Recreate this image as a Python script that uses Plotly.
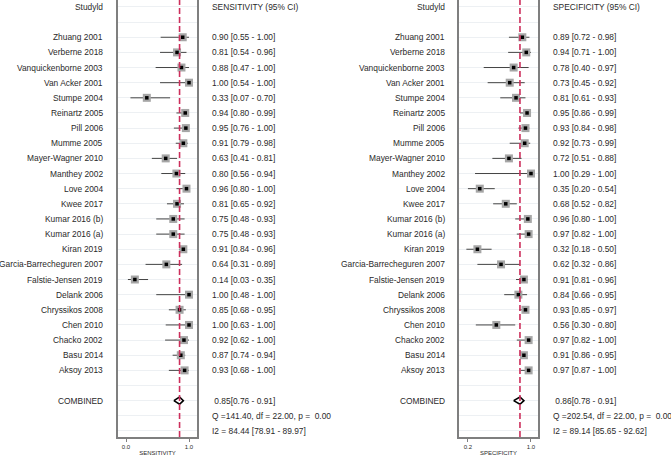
import plotly.graph_objects as go

# study rows, top to bottom
studies = [
    "Zhuang 2001", "Verberne 2018", "Vanquickenborne 2003", "Van Acker 2001",
    "Stumpe 2004", "Reinartz 2005", "Pill 2006", "Mumme 2005",
    "Mayer-Wagner 2010", "Manthey 2002", "Love 2004", "Kwee 2017",
    "Kumar 2016 (b)", "Kumar 2016 (a)", "Kiran 2019", "Garcia-Barrecheguren 2007",
    "Falstie-Jensen 2019", "Delank 2006", "Chryssikos 2008", "Chen 2010",
    "Chacko 2002", "Basu 2014", "Aksoy 2013",
]

sens = [0.90, 0.81, 0.88, 1.00, 0.33, 0.94, 0.95, 0.91, 0.63, 0.80, 0.96, 0.81,
        0.75, 0.75, 0.91, 0.64, 0.14, 1.00, 0.85, 1.00, 0.92, 0.87, 0.93]
sens_lo = [0.55, 0.54, 0.47, 0.54, 0.07, 0.80, 0.76, 0.79, 0.41, 0.56, 0.80, 0.65,
           0.48, 0.48, 0.84, 0.31, 0.03, 0.48, 0.68, 0.63, 0.62, 0.74, 0.68]
sens_hi = [1.00, 0.96, 1.00, 1.00, 0.70, 0.99, 1.00, 0.98, 0.81, 0.94, 1.00, 0.92,
           0.93, 0.93, 0.96, 0.89, 0.35, 1.00, 0.95, 1.00, 1.00, 0.94, 1.00]

spec = [0.89, 0.94, 0.78, 0.73, 0.81, 0.95, 0.93, 0.92, 0.72, 1.00, 0.35, 0.68,
        0.96, 0.97, 0.32, 0.62, 0.91, 0.84, 0.93, 0.56, 0.97, 0.91, 0.97]
spec_lo = [0.72, 0.71, 0.40, 0.45, 0.61, 0.86, 0.84, 0.73, 0.51, 0.29, 0.20, 0.52,
           0.80, 0.82, 0.18, 0.32, 0.81, 0.66, 0.85, 0.30, 0.82, 0.86, 0.87]
spec_hi = [0.98, 1.00, 0.97, 0.92, 0.93, 0.99, 0.98, 0.99, 0.88, 1.00, 0.54, 0.82,
           1.00, 1.00, 0.50, 0.86, 0.96, 0.95, 0.97, 0.80, 1.00, 0.95, 1.00]

# pooled estimates [est, lo, hi]
sens_comb = [0.85, 0.76, 0.91]
spec_comb = [0.86, 0.78, 0.91]
NB = "\u00a0"
sens_het = ["Q =141.40, df = 22.00, p =" + NB + NB + "0.00", "I2 = 84.44 [78.91 - 89.97]"]
spec_het = ["Q =202.54, df = 22.00, p =" + NB + NB + "0.00", "I2 = 89.14 [85.65 - 92.62]"]

sens_ticks = [0.0, 1.0]
spec_ticks = [0.2, 1.0]

FONT = "Liberation Sans, Arial, sans-serif"
TXT = "#2a2a2a"
rows = list(range(2, 2 + len(studies)))
row_comb = rows[-1] + 2
row_q = row_comb + 1
row_i2 = row_comb + 2

fig = go.Figure()


def add_panel(est, lo, hi, comb, xa, ya):
    # CI lines
    xs, ys = [], []
    for l, h, r in zip(lo, hi, rows):
        xs += [l, h, None]
        ys += [r, r, None]
    fig.add_trace(go.Scatter(x=xs, y=ys, mode="lines", xaxis=xa, yaxis=ya,
                             line=dict(color="#444444", width=1),
                             hoverinfo="skip", showlegend=False))
    fig.add_trace(go.Scatter(x=est, y=rows, mode="markers", xaxis=xa, yaxis=ya,
                             marker=dict(symbol="square", size=8, color="#a6a6a6"),
                             showlegend=False))
    fig.add_trace(go.Scatter(x=est, y=rows, mode="markers", xaxis=xa, yaxis=ya,
                             marker=dict(symbol="square", size=3.5, color="#000000"),
                             showlegend=False))
    e, l, h = comb
    d = 0.24
    fig.add_trace(go.Scatter(x=[l, e, h, e, l], y=[row_comb, row_comb - d, row_comb, row_comb + d, row_comb],
                             mode="lines", fill="toself", fillcolor="white",
                             xaxis=xa, yaxis=ya, line=dict(color="black", width=1.6),
                             showlegend=False))
    fig.add_shape(type="line", xref=xa, yref=ya + " domain", x0=e, x1=e, y0=0, y1=1,
                  line=dict(color="#cc2f5c", width=1.6, dash="6px,3px"), layer="above")


add_panel(sens, sens_lo, sens_hi, sens_comb, "x", "y")
add_panel(spec, spec_lo, spec_hi, spec_comb, "x2", "y2")


def ann(text, x, y, anchor):
    fig.add_annotation(text=text, x=x, y=y, xref="paper", yref="y", xanchor=anchor,
                       yanchor="middle", showarrow=False,
                       font=dict(family=FONT, size=8.4, color=TXT))


panels = [
    (0.156, 0.3135, "SENSITIVITY (95% CI)", sens, sens_lo, sens_hi, sens_comb, sens_het),
    (0.666, 0.8215, "SPECIFICITY (95% CI)", spec, spec_lo, spec_hi, spec_comb, spec_het),
]
for xl, xs, head, est, lo, hi, comb, het in panels:
    ann("Studyld", xl, 0, "right")
    ann(head, xs, 0, "left")
    for name, e, l, h, r in zip(studies, est, lo, hi, rows):
        ann(name, xl, r, "right")
        ann(f"{e:.2f} [{l:.2f} - {h:.2f}]", xs, r, "left")
    ann("COMBINED", xl, row_comb, "right")
    ann(f"{NB}{comb[0]:.2f}[{comb[1]:.2f} - {comb[2]:.2f}]", xs, row_comb, "left")
    ann(het[0], xs, row_q, "left")
    ann(het[1], xs, row_i2, "left")

xcommon = dict(showgrid=False, zeroline=False, showline=True, linecolor="#7f7f7f",
               linewidth=1.5, ticks="outside", ticklen=3, tickcolor="#7f7f7f",
               tickfont=dict(family=FONT, size=6, color=TXT),
               title_font=dict(family=FONT, size=6, color=TXT), title_standoff=2)
ycommon = dict(range=[row_i2 + 0.4, -0.46], tickvals=list(range(0, row_i2 + 1)),
               showticklabels=False, ticks="", showgrid=True, gridcolor="#edf0f3",
               gridwidth=1, zeroline=False, showline=True, mirror=True,
               linecolor="#7f7f7f", linewidth=1.5)

fig.update_layout(
    width=671, height=460,
    margin=dict(l=0, r=0, t=0, b=23),
    paper_bgcolor="white", plot_bgcolor="white",
    font=dict(family=FONT, color=TXT),
    showlegend=False,
    xaxis=dict(domain=[0.1759, 0.2936], range=[-0.127, 1.127], anchor="y",
               tickvals=sens_ticks, ticktext=[f"{t:.1f}" for t in sens_ticks],
               title_text="SENSITIVITY", **xcommon),
    xaxis2=dict(domain=[0.684, 0.8018], range=[0.086, 1.089], anchor="y2",
                tickvals=spec_ticks, ticktext=[f"{t:.1f}" for t in spec_ticks],
                title_text="SPECIFICITY", **xcommon),
    yaxis=dict(anchor="x", **ycommon),
    yaxis2=dict(anchor="x2", matches="y", **ycommon),
)

# drop the browser's default page margin so the figure sits at the window corner
fig.write_html("out.html", config={"displayModeBar": False},
               post_script="document.body.style.margin='0';")
